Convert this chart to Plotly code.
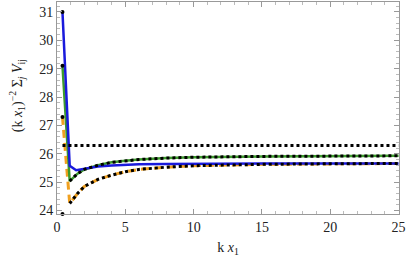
import plotly.graph_objects as go

# ---- data ----
kx_blue = [0.4, 0.93, 1.4, 2, 3, 4, 5, 6, 8, 10, 15, 20, 25]
v_blue = [31.0, 25.58, 25.42, 25.47, 25.55, 25.59, 25.61, 25.63, 25.64, 25.65, 25.66, 25.66, 25.66]

kx_green = [0.4, 0.93, 1.5, 2, 3, 4, 5, 6, 8, 10, 15, 20, 25]
v_green = [29.1, 25.04, 25.3, 25.45, 25.6, 25.7, 25.76, 25.8, 25.85, 25.88, 25.91, 25.92, 25.93]

kx_orange = [0.4, 0.93, 1.5, 2, 3, 4, 5, 6, 8, 10, 15, 20, 25]
v_orange = [27.3, 24.25, 24.6, 24.85, 25.1, 25.25, 25.37, 25.45, 25.53, 25.58, 25.63, 25.65, 25.66]

kx_fit = [0.93, 1.5, 2, 3, 4, 5, 6, 8, 10, 15, 20, 25]
fit_green = [25.04, 25.3, 25.45, 25.6, 25.7, 25.76, 25.8, 25.85, 25.88, 25.91, 25.92, 25.93]
fit_low = [24.25, 24.6, 24.85, 25.1, 25.25, 25.37, 25.45, 25.53, 25.58, 25.63, 25.65, 25.66]

asym_x = [0.4, 25]
asym_y = [26.29, 26.29]

pts_x = [0.4, 0.4, 0.4, 0.4]
pts_y = [31.0, 29.1, 27.3, 23.88]

x_ticks = [0, 5, 10, 15, 20, 25]
y_ticks = [24, 25, 26, 27, 28, 29, 30, 31]

SERIF = "'Liberation Serif', 'Times New Roman', serif"

fig = go.Figure()
fig.add_trace(go.Scatter(x=kx_orange, y=v_orange, mode="lines",
                         line=dict(color="#f0a020", width=3, dash="8px,5px")))
fig.add_trace(go.Scatter(x=kx_green, y=v_green, mode="lines",
                         line=dict(color="#3c9a2c", width=2.5)))
fig.add_trace(go.Scatter(x=kx_blue, y=v_blue, mode="lines",
                         line=dict(color="#1a1adc", width=2.5)))
for fy in (fit_green, fit_low):
    fig.add_trace(go.Scatter(x=kx_fit, y=fy, mode="lines",
                             line=dict(color="black", width=3, dash="3px,3px")))
fig.add_trace(go.Scatter(x=asym_x, y=asym_y, mode="lines",
                         line=dict(color="black", width=3, dash="3px,3px")))
fig.add_trace(go.Scatter(x=pts_x, y=pts_y, mode="markers",
                         marker=dict(color="black", size=4), cliponaxis=False))

axis_common = dict(showline=True, linecolor="#999", linewidth=1, mirror="allticks",
                   ticks="inside", ticklen=5, tickcolor="#999", showgrid=False,
                   zeroline=False, automargin=False, ticklabeloverflow="allow",
                   tickfont=dict(family=SERIF, size=14, color="#222"))
fig.update_xaxes(range=[0, 25.03], tickvals=x_ticks, **axis_common,
                 minor=dict(ticks="inside", dtick=1, ticklen=3, tickcolor="#bbb"),
                 title=dict(text="k <i>x</i><sub>1</sub>", standoff=8,
                            font=dict(family=SERIF, size=14, color="#222")))
fig.update_yaxes(range=[23.88, 31.35], tickvals=y_ticks, **axis_common,
                 minor=dict(ticks="inside", dtick=0.2, ticklen=3, tickcolor="#bbb"))
fig.add_annotation(text="(k <i>x</i><sub>1</sub>)<sup>−2</sup> Σ<sub><i>j</i></sub> <i>V</i><sub>ij</sub>",
                   xref="paper", yref="paper", x=-0.117, y=0.56, textangle=-90,
                   showarrow=False, xanchor="center", yanchor="middle",
                   font=dict(family=SERIF, size=14, color="#222"))
fig.update_layout(width=409, height=259, margin=dict(l=57, r=10, t=2, b=45),
                  paper_bgcolor="white", plot_bgcolor="white", showlegend=False)
fig.write_html("out.html", config={"displayModeBar": False},
               post_script="document.body.style.margin='0';")
